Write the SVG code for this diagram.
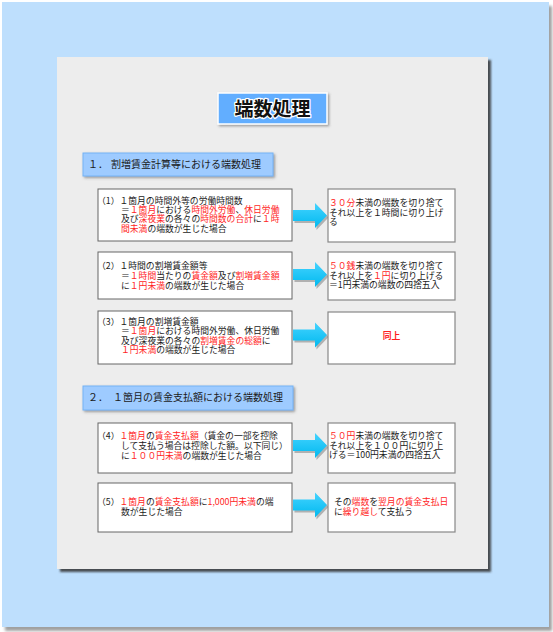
<svg xmlns="http://www.w3.org/2000/svg" xmlns:xlink="http://www.w3.org/1999/xlink" width="553" height="632" viewBox="0 0 553 632">
<defs>
<style>
.t{font-family:"Noto Sans CJK JP","Noto Sans CJK SC",sans-serif;font-size:8.8px;fill:#1a1a1a}
.r{fill:#ff1e1e}
.ht{font-size:10px}
.box{fill:#fff;stroke:#666;stroke-width:1}
.rbox{fill:#fff;stroke:#888;stroke-width:1.2}
.hdr{fill:#9ecbff;stroke:#74b3f5;stroke-width:1}
.arrow{fill:url(#ag)}
</style>
<filter id="outer" x="-5%" y="-5%" width="110%" height="110%"><feDropShadow dx="3" dy="4" stdDeviation="1.5" flood-color="#777" flood-opacity="0.7"/></filter>
<filter id="panel" x="-5%" y="-5%" width="110%" height="110%"><feDropShadow dx="3" dy="3" stdDeviation="1" flood-color="#333" flood-opacity="0.85"/></filter>
<filter id="sh2" x="-10%" y="-20%" width="130%" height="150%"><feDropShadow dx="1.5" dy="1.5" stdDeviation="1" flood-color="#666" flood-opacity="0.6"/></filter>
<linearGradient id="ag" x1="0" y1="0" x2="0" y2="1"><stop offset="0" stop-color="#45d3ff"/><stop offset="1" stop-color="#00b9ef"/></linearGradient>
<path id="arr" d="M0,-5.5 H22 V-12.5 L34,0 L22,12.5 V5.5 H0 Z"/>
</defs>

<rect x="2" y="2" width="547" height="625" fill="#bedffd" filter="url(#outer)"/>
<rect x="57" y="57" width="431" height="512" fill="#ededed" filter="url(#panel)"/>

<g id="title">
<rect x="218" y="93" width="109" height="31" fill="#62aeff" stroke="#fff" stroke-width="1.5" filter="url(#sh2)"/>
<text x="272.5" y="115.5" text-anchor="middle" style="font-family:'Noto Sans CJK JP','Noto Sans CJK SC',sans-serif;font-size:19px;font-weight:bold;fill:#111;stroke:#fff;stroke-width:2.5px;paint-order:stroke;stroke-linejoin:round">端数処理</text>
</g>

<g id="section1">
<rect class="hdr" x="83" y="153" width="190" height="23" filter="url(#sh2)"/>
<text class="t ht" x="88" y="167.5">１．</text>
<text class="t ht" x="111" y="167.5">割増賃金計算等における端数処理</text>
</g>

<g id="section2">
<rect class="hdr" x="83" y="386" width="210" height="24" filter="url(#sh2)"/>
<text class="t ht" x="88" y="401">２．</text>
<text class="t ht" x="113" y="401">１箇月の賃金支払額における端数処理</text>
</g>

<g id="connectors">
<use xlink:href="#arr" x="293" y="215.5" fill="#888" opacity="0.6" transform="translate(1.5,2)"/>
<use xlink:href="#arr" x="293" y="215.5" class="arrow"/>
<use xlink:href="#arr" x="293" y="274.5" fill="#888" opacity="0.6" transform="translate(1.5,2)"/>
<use xlink:href="#arr" x="293" y="274.5" class="arrow"/>
<use xlink:href="#arr" x="293" y="335" fill="#888" opacity="0.6" transform="translate(1.5,2)"/>
<use xlink:href="#arr" x="293" y="335" class="arrow"/>
<use xlink:href="#arr" x="293" y="445.5" fill="#888" opacity="0.6" transform="translate(1.5,2)"/>
<use xlink:href="#arr" x="293" y="445.5" class="arrow"/>
<use xlink:href="#arr" x="293" y="505" fill="#888" opacity="0.6" transform="translate(1.5,2)"/>
<use xlink:href="#arr" x="293" y="505" class="arrow"/>
</g>

<g id="case1">
<rect class="box" x="98" y="189" width="194" height="52"/>
<text class="t" x="97" y="203.5">（1）１箇月の時間外等の労働時間数</text>
<text class="t" x="121" y="212.9">＝<tspan class="r">１箇月</tspan>における<tspan class="r">時間外労働</tspan>、<tspan class="r">休日労働</tspan></text>
<text class="t" x="121" y="222.3">及び<tspan class="r">深夜業</tspan>の各々の<tspan class="r">時間数の合計</tspan>に<tspan class="r">１時</tspan></text>
<text class="t" x="121" y="231.7"><tspan class="r">間未満</tspan>の端数が生じた場合</text>
</g>
<g id="result1">
<rect class="rbox" x="328" y="189" width="127" height="53"/>
<text class="t" x="329" y="206"><tspan class="r">３０分</tspan>未満の端数を切り捨て</text>
<text class="t" x="329" y="215.5">それ以上を１時間に切り上げ</text>
<text class="t" x="329" y="225">る</text>
</g>

<g id="case2">
<rect class="box" x="98" y="252" width="194" height="47"/>
<text class="t" x="97" y="268.5">（2）１時間の割増賃金額等</text>
<text class="t" x="121" y="278.5">＝<tspan class="r">１時間</tspan>当たりの<tspan class="r">賃金額</tspan>及び<tspan class="r">割増賃金額</tspan></text>
<text class="t" x="121" y="288.5">に<tspan class="r">１円未満</tspan>の端数が生じた場合</text>
</g>
<g id="result2">
<rect class="rbox" x="328" y="252" width="127" height="48"/>
<text class="t" x="329" y="269"><tspan class="r">５０銭</tspan>未満の端数を切り捨て</text>
<text class="t" x="329" y="278.5">それ以上を<tspan class="r">１円</tspan>に切り上げる</text>
<text class="t" x="329" y="288">＝1円未満の端数の四捨五入</text>
</g>

<g id="case3">
<rect class="box" x="98" y="311" width="194" height="53"/>
<text class="t" x="97" y="324.5">（3）１箇月の割増賃金額</text>
<text class="t" x="121" y="334">＝<tspan class="r">１箇月</tspan>における時間外労働、休日労働</text>
<text class="t" x="121" y="343.5">及び深夜業の各々の<tspan class="r">割増賃金の総額</tspan>に</text>
<text class="t" x="121" y="353"><tspan class="r">１円未満</tspan>の端数が生じた場合</text>
</g>
<g id="result3">
<rect class="rbox" x="328" y="312" width="127" height="52"/>
<text class="t r" x="391.5" y="339" text-anchor="middle" font-weight="bold">同上</text>
</g>

<g id="case4">
<rect class="box" x="98" y="423" width="194" height="50"/>
<text class="t" x="97" y="439">（4）<tspan class="r">１箇月</tspan>の<tspan class="r">賃金支払額</tspan>（賃金の一部を控除</text>
<text class="t" x="121" y="449">して支払う場合は控除した額。以下同じ）</text>
<text class="t" x="121" y="459">に<tspan class="r">１００円未満</tspan>の端数が生じた場合</text>
</g>
<g id="result4">
<rect class="rbox" x="328" y="423" width="127" height="50"/>
<text class="t" x="329" y="439"><tspan class="r">５０円</tspan>未満の端数を切り捨て</text>
<text class="t" x="329" y="448.5">それ以上を１００円に切り上</text>
<text class="t" x="329" y="458">げる＝100円未満の四捨五入</text>
</g>

<g id="case5">
<rect class="box" x="98" y="483" width="194" height="49"/>
<text class="t" x="97" y="505">（5）<tspan class="r">１箇月</tspan>の<tspan class="r">賃金支払額</tspan>に<tspan class="r">1,000円未満</tspan>の端</text>
<text class="t" x="121" y="515">数が生じた場合</text>
</g>
<g id="result5">
<rect class="rbox" x="328" y="483" width="127" height="49"/>
<text class="t" x="334" y="505">その<tspan class="r">端数</tspan>を<tspan class="r">翌月の賃金支払日</tspan></text>
<text class="t" x="334" y="515">に<tspan class="r">繰り越し</tspan>て支払う</text>
</g>
</svg>
